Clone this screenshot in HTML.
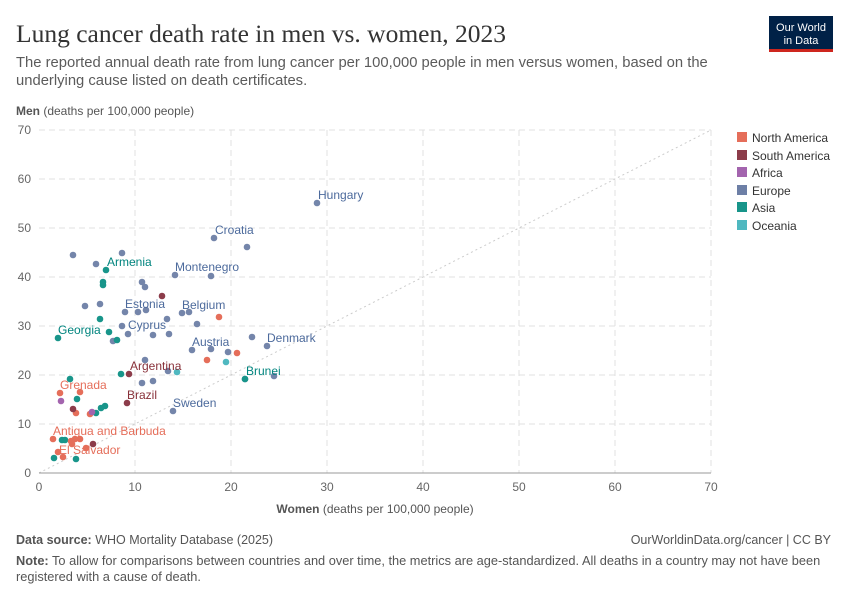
<!DOCTYPE html>
<html><head><meta charset="utf-8"><style>
body{margin:0;background:#fff;width:850px;height:600px;overflow:hidden;font-family:"Liberation Sans",sans-serif}
</style></head><body>
<svg width="850" height="600" xmlns="http://www.w3.org/2000/svg" font-family="Liberation Sans, sans-serif">
<text x="16" y="42" font-family="Liberation Serif, serif" font-size="25.5" fill="#333">Lung cancer death rate in men vs. women, 2023</text>
<text x="16" y="67" font-size="14.8" fill="#5b5b5b">The reported annual death rate from lung cancer per 100,000 people in men versus women, based on the</text>
<text x="16" y="85" font-size="14.8" fill="#5b5b5b">underlying cause listed on death certificates.</text>
<rect x="769" y="16" width="64" height="34" fill="#002147"/>
<rect x="769" y="49" width="64" height="3" fill="#ce261e"/>
<text x="801" y="31" font-size="11" fill="#fff" text-anchor="middle">Our World</text>
<text x="801" y="44" font-size="11" fill="#fff" text-anchor="middle">in Data</text>
<text x="16" y="115" font-size="12" fill="#555"><tspan font-weight="bold">Men</tspan> (deaths per 100,000 people)</text>
<g stroke="#e0e0e0" stroke-dasharray="6,4" stroke-width="1">
<line x1="39" y1="130" x2="711" y2="130"/><line x1="39" y1="179" x2="711" y2="179"/><line x1="39" y1="228" x2="711" y2="228"/><line x1="39" y1="277" x2="711" y2="277"/><line x1="39" y1="326" x2="711" y2="326"/><line x1="39" y1="375" x2="711" y2="375"/><line x1="39" y1="424" x2="711" y2="424"/>
<line x1="135" y1="130" x2="135" y2="473"/><line x1="231" y1="130" x2="231" y2="473"/><line x1="327" y1="130" x2="327" y2="473"/><line x1="423" y1="130" x2="423" y2="473"/><line x1="519" y1="130" x2="519" y2="473"/><line x1="615" y1="130" x2="615" y2="473"/><line x1="711" y1="130" x2="711" y2="473"/>
</g>
<line x1="39" y1="473" x2="711" y2="130" stroke="#ccc" stroke-dasharray="2,3"/>
<line x1="39" y1="473" x2="711" y2="473" stroke="#999"/>
<g font-size="12" fill="#666" text-anchor="end">
<text x="31" y="134">70</text><text x="31" y="183">60</text><text x="31" y="232">50</text><text x="31" y="281">40</text><text x="31" y="330">30</text><text x="31" y="379">20</text><text x="31" y="428">10</text><text x="31" y="477">0</text>
</g>
<g font-size="12" fill="#666" text-anchor="middle">
<text x="39" y="491">0</text><text x="135" y="491">10</text><text x="231" y="491">20</text><text x="327" y="491">30</text><text x="423" y="491">40</text><text x="519" y="491">50</text><text x="615" y="491">60</text><text x="711" y="491">70</text>
</g>
<text x="375" y="513" font-size="12" fill="#555" text-anchor="middle"><tspan font-weight="bold">Women</tspan> (deaths per 100,000 people)</text>
<g font-size="12" fill="#333">
<rect x="737" y="132" width="10" height="10" fill="#e56e5a"/><text x="752" y="142">North America</text>
<rect x="737" y="150" width="10" height="10" fill="#8c3c4a"/><text x="752" y="160">South America</text>
<rect x="737" y="167" width="10" height="10" fill="#a364ae"/><text x="752" y="177">Africa</text>
<rect x="737" y="185" width="10" height="10" fill="#6d7fa6"/><text x="752" y="195">Europe</text>
<rect x="737" y="202" width="10" height="10" fill="#18958a"/><text x="752" y="212">Asia</text>
<rect x="737" y="220" width="10" height="10" fill="#4fb8c0"/><text x="752" y="230">Oceania</text>
</g>
<g fill="#6d7fa6" opacity="0.95">
<circle cx="317" cy="203" r="3.3"/><circle cx="214" cy="238" r="3.3"/><circle cx="247" cy="247" r="3.3"/><circle cx="73" cy="255" r="3.3"/><circle cx="96" cy="264" r="3.3"/><circle cx="122" cy="253" r="3.3"/><circle cx="175" cy="275" r="3.3"/><circle cx="211" cy="276" r="3.3"/><circle cx="142" cy="282" r="3.3"/><circle cx="145" cy="287" r="3.3"/><circle cx="85" cy="306" r="3.3"/><circle cx="100" cy="304" r="3.3"/><circle cx="125" cy="312" r="3.3"/><circle cx="138" cy="312" r="3.3"/><circle cx="146" cy="310" r="3.3"/><circle cx="167" cy="319" r="3.3"/><circle cx="182" cy="313" r="3.3"/><circle cx="189" cy="312" r="3.3"/><circle cx="197" cy="324" r="3.3"/><circle cx="122" cy="326" r="3.3"/><circle cx="128" cy="334" r="3.3"/><circle cx="153" cy="335" r="3.3"/><circle cx="169" cy="334" r="3.3"/><circle cx="113" cy="341" r="3.3"/><circle cx="252" cy="337" r="3.3"/><circle cx="267" cy="346" r="3.3"/><circle cx="192" cy="350" r="3.3"/><circle cx="211" cy="349" r="3.3"/><circle cx="228" cy="352" r="3.3"/><circle cx="274" cy="376" r="3.3"/><circle cx="245" cy="379" r="3.3"/><circle cx="145" cy="360" r="3.3"/><circle cx="142" cy="383" r="3.3"/><circle cx="153" cy="381" r="3.3"/><circle cx="173" cy="411" r="3.3"/><circle cx="168" cy="371" r="3.3"/>
</g>
<g fill="#18958a">
<circle cx="106" cy="270" r="3.3"/><circle cx="103" cy="282" r="3.3"/><circle cx="103" cy="285" r="3.3"/><circle cx="100" cy="319" r="3.3"/><circle cx="58" cy="338" r="3.3"/><circle cx="109" cy="332" r="3.3"/><circle cx="117" cy="340" r="3.3"/><circle cx="121" cy="374" r="3.3"/><circle cx="245" cy="379" r="3.3"/><circle cx="70" cy="379" r="3.3"/><circle cx="77" cy="399" r="3.3"/><circle cx="96" cy="413" r="3.3"/><circle cx="101" cy="408" r="3.3"/><circle cx="105" cy="406" r="3.3"/><circle cx="62" cy="440" r="3.3"/><circle cx="65" cy="440" r="3.3"/><circle cx="54" cy="458" r="3.3"/><circle cx="76" cy="459" r="3.3"/>
</g>
<g fill="#e56e5a">
<circle cx="219" cy="317" r="3.3"/><circle cx="237" cy="353" r="3.3"/><circle cx="207" cy="360" r="3.3"/><circle cx="60" cy="393" r="3.3"/><circle cx="80" cy="392" r="3.3"/><circle cx="76" cy="413" r="3.3"/><circle cx="90" cy="414" r="3.3"/><circle cx="53" cy="439" r="3.3"/><circle cx="71" cy="441" r="3.3"/><circle cx="75" cy="439" r="3.3"/><circle cx="80" cy="439" r="3.3"/><circle cx="58" cy="452" r="3.3"/><circle cx="63" cy="457" r="3.3"/><circle cx="86" cy="448" r="3.3"/><circle cx="72" cy="444" r="3.3"/>
</g>
<g fill="#8c3c4a">
<circle cx="162" cy="296" r="3.3"/><circle cx="129" cy="374" r="3.3"/><circle cx="127" cy="403" r="3.3"/><circle cx="73" cy="409" r="3.3"/><circle cx="93" cy="444" r="3.3"/>
</g>
<g fill="#a364ae"><circle cx="61" cy="401" r="3.3"/><circle cx="92" cy="412" r="3.3"/></g>
<g fill="#4fb8c0"><circle cx="226" cy="362" r="3.3"/><circle cx="177" cy="372" r="3.3"/></g>
<g font-size="12">
<text x="318" y="199" fill="#4c6a9c">Hungary</text>
<text x="215" y="234" fill="#4c6a9c">Croatia</text>
<text x="175" y="271" fill="#4c6a9c">Montenegro</text>
<text x="125" y="308" fill="#4c6a9c">Estonia</text>
<text x="182" y="309" fill="#4c6a9c">Belgium</text>
<text x="128" y="329" fill="#4c6a9c">Cyprus</text>
<text x="192" y="346" fill="#4c6a9c">Austria</text>
<text x="267" y="342" fill="#4c6a9c">Denmark</text>
<text x="173" y="407" fill="#4c6a9c">Sweden</text>
<text x="107" y="266" fill="#00847e">Armenia</text>
<text x="58" y="334" fill="#00847e">Georgia</text>
<text x="246" y="375" fill="#00847e">Brunei</text>
<text x="130" y="370" fill="#883039">Argentina</text>
<text x="127" y="399" fill="#883039">Brazil</text>
<text x="60" y="389" fill="#e56e5a">Grenada</text>
<text x="53" y="435" fill="#e56e5a">Antigua and Barbuda</text>
<text x="59" y="454" fill="#e56e5a">El Salvador</text>
</g>
<text x="16" y="544" font-size="12.5" fill="#555"><tspan font-weight="bold">Data source:</tspan> WHO Mortality Database (2025)</text>
<text x="831" y="544" font-size="12.5" fill="#555" text-anchor="end">OurWorldinData.org/cancer | CC BY</text>
<text x="16" y="565" font-size="12.8" fill="#555"><tspan font-weight="bold">Note:</tspan> To allow for comparisons between countries and over time, the metrics are age-standardized. All deaths in a country may not have been</text>
<text x="16" y="581" font-size="12.8" fill="#555">registered with a cause of death.</text>
</svg>
</body></html>
